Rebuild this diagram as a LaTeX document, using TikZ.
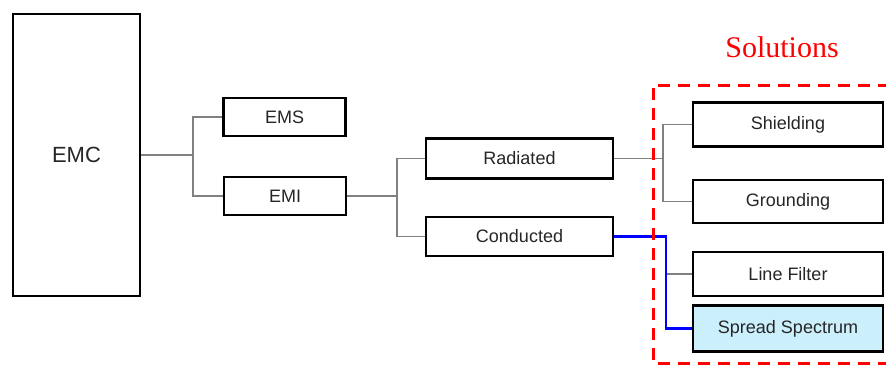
\documentclass[tikz,border=0pt]{standalone}
\usepackage{fontspec}
\setmainfont{Liberation Sans}
\newfontfamily\serifsol{Liberation Serif}
\begin{document}
\begin{tikzpicture}[x=1pt,y=-1pt,
  box/.style={draw=black,line width=2.6pt,fill=white,inner sep=0pt,font=\fontsize{18}{20}\selectfont,text=black!85},
  conn/.style={draw=black!50,line width=1.4pt},
  sel/.style={draw=blue,line width=2.4pt},
  solbox/.style={draw=red,line width=3pt,dash pattern=on 12pt off 8pt}]
\useasboundingbox[fill=white] (0,0) rectangle (886,367);
\node[box,minimum width=127pt,minimum height=282pt,font=\fontsize{22}{24}\selectfont] (EMC) at (76.5,155) {EMC};
\node[box,minimum width=122pt,minimum height=38pt] (EMS) at (284.5,117) {EMS};
\node[box,minimum width=122pt,minimum height=38pt] (EMI) at (285,196) {EMI};
\node[box,minimum width=187pt,minimum height=40pt] (Rad) at (519.5,158.5) {Radiated};
\node[box,minimum width=187pt,minimum height=39pt] (Con) at (519.5,236.5) {Conducted};
\node[box,minimum width=190pt,minimum height=44pt] (Shi) at (788,124.5) {Shielding};
\node[box,minimum width=190pt,minimum height=43pt] (Gro) at (788,201.5) {Grounding};
\node[box,minimum width=190pt,minimum height=44pt] (LF) at (788,274) {Line Filter};
\node[box,minimum width=190pt,minimum height=46pt,fill=cyan!20] (SS) at (788,328.5) {Spread Spectrum};
\coordinate (j1) at (193,155);
\coordinate (j2) at (397,196);
\coordinate (j3) at (663,158.5);
\coordinate (j4) at (666,236.5);
\draw[conn] (EMC.east) -- (j1);
\draw[conn] (j1) |- (EMS.west);
\draw[conn] (j1) |- (EMI.west);
\draw[conn] (EMI.east) -- (j2);
\draw[conn] (j2) |- (Rad.west);
\draw[conn] (j2) |- (Con.west);
\draw[conn] (Rad.east) -- (j3);
\draw[conn] (j3) |- (Shi.west);
\draw[conn] (j3) |- (Gro.west);
\draw[conn] (j4 |- LF.west) -- (LF.west);
\draw[sel] (Con.east) -- (j4) |- (SS.west);
\draw[solbox] (890,85) -- (653,85) -- (653,363) -- (890,363);
\node[text=red,font=\serifsol\fontsize{30}{32}\selectfont,inner sep=0pt] (sol) at (782,47) {Solutions};
\end{tikzpicture}
\end{document}
